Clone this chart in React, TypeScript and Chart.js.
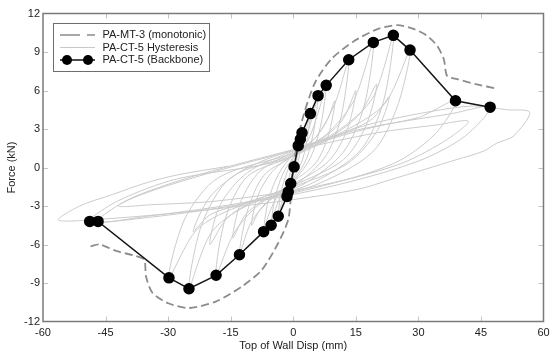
import React, { useEffect, useRef } from "react";
import { Chart, registerables } from "chart.js";

Chart.register(...registerables);

const xTicks = [-60, -45, -30, -15, 0, 15, 30, 45, 60];
const yTicks = [-12, -9, -6, -3, 0, 3, 6, 9, 12];
const xTitle = "Top of Wall Disp (mm)";
const yTitle = "Force (kN)";
const seriesLabels = ["PA-MT-3 (monotonic)", "PA-CT-5 Hysteresis", "PA-CT-5 (Backbone)"];

const backboneX = [-48.8, -46.8, -29.8, -25, -18.5, -12.9, -7.1, -5.3, -3.6, -1.5, -1.2, -0.6, 0.2, 1.2, 1.7, 2.1, 4.1, 5.95, 7.9, 13.3, 19.2, 24, 28, 38.9, 47.2];
const backboneY = [-4.2, -4.2, -8.6, -9.45, -8.4, -6.8, -5.0, -4.5, -3.8, -2.25, -1.9, -1.25, 0.05, 1.7, 2.2, 2.7, 4.2, 5.6, 6.4, 8.4, 9.75, 10.3, 9.15, 5.2, 4.7];

const monotonicX = [-48.6, -46.4, -42.5, -37.7, -35.7, -35.3, -33.7, -29.8, -25, -18.6, -12.3, -7.5, -3.6, -1.2, -0.5, 0, 0.8, 2.4, 5.2, 9.1, 14.7, 20.2, 25, 29, 32.1, 34.5, 36.1, 36.9, 39.3, 44, 48.8];
const monotonicY = [-6.15, -6.0, -6.5, -6.9, -7.2, -8.5, -9.8, -10.6, -10.95, -10.45, -9.27, -7.97, -5.88, -4.06, -2.0, 0, 1.6, 4.0, 6.6, 8.44, 9.87, 10.78, 11.1, 10.78, 10.26, 9.48, 8.44, 7.13, 6.88, 6.48, 6.15];

const hysteresisPath: [number, number][] = [
  [0, 0], [0.6, 1.0], [1.2, 1.7], [0.9, 0.8], [0.3, 0.0], [-0.2, -0.6], [-0.6, -1.25], [-0.4, -0.5], [0, 0.2],
  [0.8, 1.1], [1.6, 2.0], [2.1, 2.7], [1.7, 1.3], [0.9, 0.2], [0, -0.6], [-0.9, -1.5], [-1.5, -2.25], [-1.1, -1.0], [-0.3, 0.1],
  [1.0, 0.9], [2.5, 2.2], [3.4, 3.3], [4.1, 4.2], [3.4, 2.3], [2.2, 0.6], [0.5, -0.6], [-1.5, -1.6], [-2.8, -2.8], [-3.6, -3.8], [-2.9, -1.9], [-1.5, -0.4],
  [0, 0.7], [2.5, 2.0], [4.5, 3.8], [5.95, 5.6], [5.0, 3.0], [3.2, 0.7], [0.5, -0.8], [-2.5, -1.9], [-4.2, -3.2], [-5.3, -4.5], [-4.4, -2.4], [-2.5, -0.5],
  [0, 0.8], [3.5, 2.1], [6.0, 4.3], [7.9, 6.4], [6.6, 3.3], [4.2, 0.8], [0.5, -0.9], [-3.5, -2.1], [-5.8, -3.6], [-7.1, -5.0], [-6.0, -2.6], [-3.5, -0.5],
  [0, 1.0], [5.5, 2.4], [10, 5.0], [13.3, 8.4], [11.5, 4.0], [8, 1.0], [2, -1.0], [-5, -2.4], [-10, -4.2], [-12.9, -6.8], [-11, -3.4], [-7, -0.6],
  [0, 0.9], [5, 2.2], [8, 3.6], [10, 5.2], [8.5, 2.6], [5.5, 0.4], [0, -1.1], [-5, -2.3], [-8, -3.3], [-10, -4.5], [-8.5, -2.2], [-5, -0.3],
  [0, 1.0], [8, 2.6], [14.5, 5.2], [19.2, 9.75], [17, 4.8], [12, 1.2], [3, -1.2], [-7, -2.6], [-14, -5.0], [-18.5, -8.4], [-16.3, -4.0], [-11, -0.7],
  [0, 0.9], [8, 2.5], [12, 3.8], [15, 6.0], [13, 3.0], [8.5, 0.5], [0, -1.3], [-7, -2.5], [-11.5, -3.7], [-14.5, -5.5], [-12.5, -2.6], [-8, -0.3],
  [0, 1.2], [10, 2.7], [19, 5.4], [24, 10.3], [21.5, 5.0], [16, 1.3], [4, -1.3], [-10, -2.8], [-19.5, -5.0], [-25, -9.45], [-22, -4.5], [-15, -0.8],
  [0, 1.0], [10, 2.6], [16, 4.2], [20, 6.5], [17.5, 3.3], [12, 0.6], [0, -1.4], [-10, -2.7], [-16, -4.0], [-20, -6.0], [-17.5, -2.9], [-11, -0.4],
  [0, 1.3], [12, 2.8], [22, 5.0], [28, 9.15], [25, 4.8], [19, 1.2], [5, -1.4], [-12, -2.9], [-23, -4.8], [-29.8, -8.6], [-26, -4.0], [-18, -0.8],
  [0, 1.1], [12, 2.7], [19, 3.8], [23, 5.5], [20, 2.8], [13, 0.3], [0, -1.5], [-12, -2.8], [-20, -3.7], [-24, -5.0], [-20, -2.3], [-12, -0.2],
  [0, 1.4], [15, 2.9], [30, 3.9], [38.9, 5.2], [34, 2.6], [24, 0.3], [5, -1.6], [-15, -2.9], [-35, -3.8], [-46.8, -4.2], [-40, -2.6], [-25, -0.9],
  [0, 1.3], [20, 2.7], [34, 3.3], [42, 3.6], [36, 2.0], [25, 0.2], [5, -1.5], [-18, -2.6], [-34, -2.9], [-42, -3.0], [-36, -2.0], [-22, -0.5],
  [0, 1.4], [20, 3.2], [38, 4.2], [47.2, 4.7], [41, 2.4], [30, 0.5], [10, -1.4], [-15, -3.0], [-35, -3.9], [-48.8, -4.2], [-42, -2.6], [-28, -0.9],
  [-3.6, 0.5], [15.5, 3.1], [31.4, 4.27], [43.3, 4.8], [51.2, 4.5], [56.7, 4.3], [52.8, 2.45], [48.8, 1.9], [45.6, 1.27], [39.3, 0.63], [31.4, -0.16], [23.4, -0.94], [15.5, -1.7], [0, -2.5], [-15, -3.1], [-30, -3.6], [-45, -4.0], [-56.3, -4.1], [-51.2, -3.0], [-43.3, -2.1], [-35.3, -1.2], [-27.4, -0.55], [-15.5, 0.1],
];

const FONT = "'Liberation Sans', Arial, sans-serif";

const framePlugin = {
  id: "frameAndLegend",
  afterDatasetsDraw(chart: any) {
    const { ctx, chartArea: a, scales } = chart;
    ctx.save();
    // inner tick marks
    ctx.strokeStyle = "#c4c4c4";
    ctx.lineWidth = 1;
    ctx.beginPath();
    xTicks.slice(1, -1).forEach((v) => {
      const px = Math.round(scales.x.getPixelForValue(v)) + 0.5;
      ctx.moveTo(px, a.bottom);
      ctx.lineTo(px, a.bottom - 5);
      ctx.moveTo(px, a.top);
      ctx.lineTo(px, a.top + 5);
    });
    yTicks.slice(1, -1).forEach((v) => {
      const py = Math.round(scales.y.getPixelForValue(v)) + 0.5;
      ctx.moveTo(a.left, py);
      ctx.lineTo(a.left + 5, py);
      ctx.moveTo(a.right, py);
      ctx.lineTo(a.right - 5, py);
    });
    ctx.stroke();
    // frame
    ctx.strokeStyle = "#7a7a7a";
    ctx.lineWidth = 1.5;
    ctx.strokeRect(a.left, a.top, a.right - a.left, a.bottom - a.top);

    // legend box
    const lx = a.left + 10;
    const ly = a.top + 9.5;
    const lw = 156;
    const lh = 48;
    ctx.fillStyle = "#ffffff";
    ctx.fillRect(lx, ly, lw, lh);
    ctx.strokeStyle = "#6e6e6e";
    ctx.lineWidth = 1;
    ctx.strokeRect(lx + 0.5, ly + 0.5, lw, lh);
    const rows = [ly + 12, ly + 24.5, ly + 37];
    const sx0 = lx + 7;
    const sx1 = lx + 42;
    // row 1: dashed gray
    ctx.strokeStyle = "#8c8c8c";
    ctx.lineWidth = 1.6;
    ctx.setLineDash([20, 7]);
    ctx.beginPath();
    ctx.moveTo(sx0, rows[0]);
    ctx.lineTo(sx1, rows[0]);
    ctx.stroke();
    ctx.setLineDash([]);
    // row 2: light gray
    ctx.strokeStyle = "#c8c8c8";
    ctx.lineWidth = 1;
    ctx.beginPath();
    ctx.moveTo(sx0, rows[1]);
    ctx.lineTo(sx1, rows[1]);
    ctx.stroke();
    // row 3: black with markers
    ctx.strokeStyle = "#111";
    ctx.lineWidth = 1.5;
    ctx.beginPath();
    ctx.moveTo(sx0, rows[2]);
    ctx.lineTo(sx1, rows[2]);
    ctx.stroke();
    ctx.fillStyle = "#000";
    [sx0 + 7, sx1 - 7].forEach((cx) => {
      ctx.beginPath();
      ctx.arc(cx, rows[2], 5, 0, Math.PI * 2);
      ctx.fill();
    });
    // texts
    ctx.fillStyle = "#222";
    ctx.font = `11px ${FONT}`;
    ctx.textBaseline = "middle";
    ctx.textAlign = "left";
    seriesLabels.forEach((t, i) => ctx.fillText(t, lx + 49.5, rows[i]));
    ctx.restore();
  },
};

export default function App() {
  const ref = useRef<HTMLCanvasElement | null>(null);
  useEffect(() => {
    if (!ref.current) return;
    const chart = new Chart(ref.current, {
      type: "scatter",
      data: {
        datasets: [
          {
            label: seriesLabels[0],
            data: monotonicX.map((x, i) => ({ x, y: monotonicY[i] })),
            showLine: true,
            borderColor: "#8c8c8c",
            borderWidth: 1.8,
            borderDash: [8, 4],
            pointRadius: 0,
            tension: 0.25,
            order: 1,
          },
          {
            label: seriesLabels[1],
            data: hysteresisPath.map(([x, y]) => ({ x, y })),
            showLine: true,
            borderColor: "#cbcbcb",
            borderWidth: 1,
            pointRadius: 0,
            tension: 0.3,
            order: 2,
          },
          {
            label: seriesLabels[2],
            data: backboneX.map((x, i) => ({ x, y: backboneY[i] })),
            showLine: true,
            borderColor: "#151515",
            borderWidth: 1.5,
            pointRadius: 5,
            pointBackgroundColor: "#000",
            pointBorderColor: "#000",
            tension: 0,
            order: 0,
          },
        ],
      },
      options: {
        animation: false,
        responsive: false,
        maintainAspectRatio: false,
        layout: { padding: { left: 0, top: 13.5, right: 3, bottom: 0 } },
        plugins: { legend: { display: false }, tooltip: { enabled: false } },
        scales: {
          x: {
            type: "linear",
            min: -60,
            max: 60,
            afterBuildTicks: (s: any) => {
              s.ticks = xTicks.map((v) => ({ value: v }));
            },
            afterFit: (s: any) => {
              s.height = 33.5;
              s.paddingLeft = 0;
              s.paddingRight = 0;
            },
            grid: { display: false, drawTicks: false },
            border: { display: false },
            ticks: { padding: 5, color: "#222", font: { family: FONT, size: 11 }, maxRotation: 0 },
            title: { display: true, text: xTitle, color: "#222", font: { family: FONT, size: 11 }, padding: { top: 0, bottom: 2 } },
          },
          y: {
            type: "linear",
            min: -12,
            max: 12,
            afterBuildTicks: (s: any) => {
              s.ticks = yTicks.map((v) => ({ value: v }));
            },
            afterFit: (s: any) => {
              s.width = 43;
              s.paddingTop = 0;
              s.paddingBottom = 0;
            },
            grid: { display: false, drawTicks: false },
            border: { display: false },
            ticks: { padding: 3, color: "#222", font: { family: FONT, size: 11 } },
            title: { display: true, text: yTitle, color: "#222", font: { family: FONT, size: 11 }, padding: { top: 5, bottom: 0 } },
          },
        },
      },
      plugins: [framePlugin],
    });
    return () => chart.destroy();
  }, []);
  return (
    <div style={{ position: "fixed", left: 0, top: 0, width: 550, height: 355, background: "#fff" }}>
      <canvas ref={ref} width={550} height={355} style={{ display: "block" }} />
    </div>
  );
}
